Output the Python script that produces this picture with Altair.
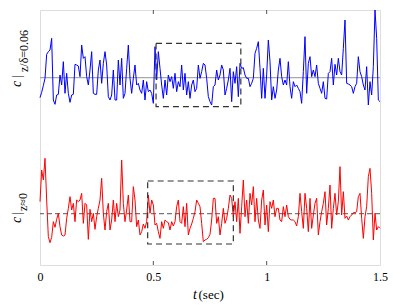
import altair as alt
import numpy as np
import pandas as pd

# time axis (sec), uniform sampling
t = np.linspace(0, 1.5, 205)

# fluctuation about mean, upper trace c|z/delta=0.06 (arbitrary units)
blue = [
    -0.60, -0.44, -0.24, -0.02, 0.70, 0.78, 0.83, 1.18, -0.67, -0.80,
    -0.52, -0.50, 0.08, -0.22, 0.48, -0.47, 0.13, -0.47, -0.74, -0.52,
    -0.50, 0.40, 0.38, 0.35, 0.03, 0.98, 0.58, 0.63, 0.03, -0.22,
    0.23, 0.78, -0.47, -0.50, -0.50, 0.23, 0.53, -0.17, 0.43, 0.78,
    0.38, -0.57, -0.67, -0.52, 0.23, -0.67, -0.67, 0.53, -0.22, 0.58,
    -0.62, -0.47, 0.28, 0.98, -0.02, -0.47, -0.02, 0.38, -0.22, -0.17,
    -0.37, -0.47, -0.07, -0.67, -0.12, -0.42, -0.37, -0.47, -0.77, 0.93,
    -0.07, 0.78, 0.28, -0.22, -0.62, -0.07, -0.52, 0.08, -0.12, 0.03,
    -0.32, 0.13, -0.42, -0.12, -0.27, 0.38, -0.37, 0.13, -0.52, -0.12,
    -0.62, -0.22, -0.07, -0.42, -0.32, 0.38, -0.02, 0.18, 0.43, 0.38,
    -0.02, -0.57, -0.72, -0.82, -0.27, -0.22, 0.23, -0.07, 0.08, 0.38,
    0.23, -0.52, -0.32, -0.07, 0.28, -0.72, 0.18, -0.17, 0.33, -0.57,
    0.43, 0.28, 0.30, 0.08, -0.02, -0.02, -0.27, -0.17, -0.02, 0.73,
    0.88, 1.08, 0.28, -0.62, 0.28, -0.62, 0.08, 1.13, 0.48, -0.67,
    -0.27, -0.62, -0.37, 0.23, 0.58, 0.03, -0.22, -0.07, -0.22, 0.48,
    -0.27, -0.62, -0.12, -0.27, -0.22, -0.32, -0.42, -0.77, 0.18, 1.23,
    -0.47, 0.43, 0.63, 0.03, 0.23, 0.03, 0.38, -0.17, -0.32, -0.47,
    -0.12, -0.62, -0.64, 0.13, 0.18, 0.58, -0.22, 0.40, 0.08, 0.58,
    0.18, 0.08, 0.88, 1.73, -0.17, -0.19, -0.22, -0.27, -0.47, -0.27,
    -0.17, 0.63, 0.18, 0.03, -0.22, -0.37, 0.33, -0.82, -0.12, -0.52,
    0.33, 2.03, 1.18, -0.67, -0.72,
]

# lower trace c|z~0 (arbitrary units)
red = [
    0.36, 1.31, 1.01, 1.66, 0.41, -0.69, -0.87, -0.71, -0.24, -0.41,
    -0.17, 0.01, -0.39, -0.64, -0.67, -0.64, -0.14, 0.16, 0.51, 0.11,
    0.31, -0.24, 0.41, 0.36, 0.41, 0.61, -0.29, 0.31, 0.26, -0.77,
    0.13, -0.24, 0.01, -0.47, -0.09, 0.16, 0.41, 1.06, 0.01, -0.49,
    0.06, 0.31, -0.49, -0.19, 0.41, -0.24, 0.31, -0.09, 0.11, 1.61,
    0.31, -0.24, 0.11, 0.56, -0.24, -0.24, 0.81, 0.41, -0.39, -0.19,
    -0.64, -0.54, -0.31, -0.44, -0.24, 0.56, 0.01, 0.41, 0.26, -0.34,
    -0.29, -0.54, -0.74, -0.24, -0.44, -0.19, -0.24, -0.27, -0.49, -0.24,
    -0.37, -0.24, 0.21, 0.41, -0.24, -0.29, 0.21, -0.39, 0.31, -0.64,
    -0.44, -0.31, -0.14, 0.06, 0.41, 0.31, 0.21, -0.29, -0.84, -0.79,
    -0.77, -0.72, -0.62, -0.19, 0.46, 0.46, -0.29, -0.09, -0.64, -0.29,
    0.16, -0.29, -0.14, 0.16, 0.56, 0.46, -0.09, 0.36, -0.24, 0.46,
    -0.59, 0.21, 1.01, -0.09, 0.41, -0.29, 0.61, 0.26, 0.81, -0.24,
    0.46, -0.19, -0.44, 0.41, 0.71, -0.34, 0.26, -0.54, 0.36, 0.16,
    0.41, -0.09, 0.16, 0.16, -0.19, -0.24, 0.21, -0.09, 0.26, -0.09,
    -0.17, -0.19, -0.19, -0.24, -0.37, -0.09, 0.61, 0.06, -0.44, 0.61,
    0.16, -0.54, 0.46, -0.44, -0.04, 0.31, 0.46, -0.64, -0.24, 0.06,
    0.31, 0.66, -0.34, 0.16, 0.86, -0.44, 0.16, 0.61, -0.04, 0.36,
    1.41, -0.04, 0.66, -0.14, -0.07, -0.19, -0.09, -0.04, 0.03, 0.03,
    0.06, 0.51, 0.61, -0.14, -0.74, -0.09, 0.21, 1.11, 1.36, 0.61,
    -0.79, 0.01, -0.49, -0.39, -0.44,
]

series_names = ["upper", "lower"]
series_colors = ["#0000ff", "#ff0000"]
offsets = [5.62, 1.54]          # vertical stacking of the two traces
y_range = [0, 7.65]
x_ticks = [0, 0.5, 1, 1.5]

# zoom boxes: t start, t end, low, high (relative to trace mean)
box_t0 = [0.512, 0.475]
box_t1 = [0.886, 0.853]
box_lo = [-0.87, -0.91]
box_hi = [1.03, 0.98]

W, H = 340, 255

lines_df = pd.concat([
    pd.DataFrame({"t": t, "y": np.array(blue) + offsets[0], "s": series_names[0]}),
    pd.DataFrame({"t": t, "y": np.array(red) + offsets[1], "s": series_names[1]}),
])
box_df = pd.DataFrame({
    "t0": box_t0, "t1": box_t1,
    "lo": np.array(box_lo) + np.array(offsets),
    "hi": np.array(box_hi) + np.array(offsets),
})
base_df = pd.DataFrame({"y": offsets, "s": series_names})
tick_df = pd.DataFrame({"t": [0.5, 1.0]})
one = pd.DataFrame({"a": [0]})

xs = alt.Scale(domain=[0, 1.5], nice=False, zero=False)
ys = alt.Scale(domain=y_range, nice=False, zero=False)

X = alt.X("t:Q", scale=xs,
          axis=alt.Axis(values=x_ticks, format="~g", ticks=False, domain=False, grid=False,
                        labelFont="Liberation Serif", labelFontSize=12, labelColor="#000",
                        labelPadding=6, labelFlush=False, title=None))

base_upper = alt.Chart(base_df[base_df.s == "upper"]).mark_rule(color="#a8a8a8", strokeWidth=1.3).encode(
    y=alt.Y("y:Q", scale=ys, axis=None))
base_lower = alt.Chart(base_df[base_df.s == "lower"]).mark_rule(color="#777777", strokeWidth=1.2,
                                                                strokeDash=[5, 3]).encode(
    y=alt.Y("y:Q", scale=ys, axis=None))

lines = alt.Chart(lines_df).mark_line(strokeWidth=1, interpolate="linear").encode(
    x=X,
    y=alt.Y("y:Q", scale=ys, axis=None),
    color=alt.Color("s:N", scale=alt.Scale(domain=series_names, range=series_colors), legend=None),
    detail="s:N",
)

boxes = alt.Chart(box_df).mark_rect(fillOpacity=0, stroke="#333333", strokeWidth=1.2,
                                    strokeDash=[6, 4]).encode(
    x=alt.X("t0:Q", scale=xs), x2="t1:Q",
    y=alt.Y("lo:Q", scale=ys, axis=None), y2="hi:Q",
)

ticks_bottom = alt.Chart(tick_df).mark_rule(color="#555555", strokeWidth=1).encode(
    x=alt.X("t:Q", scale=xs), y=alt.value(H), y2=alt.value(H - 4))
ticks_top = alt.Chart(tick_df).mark_rule(color="#555555", strokeWidth=1).encode(
    x=alt.X("t:Q", scale=xs), y=alt.value(0), y2=alt.value(4))

serif = "Liberation Serif"

def txt(s, x, y, size, style="normal", angle=0):
    return alt.Chart(one).mark_text(text=s, font=serif, fontSize=size, fontStyle=style,
                                    align="left", baseline="alphabetic", angle=angle,
                                    color="#000").encode(x=alt.value(x), y=alt.value(y))

labels = [
    txt("c", -19, 77, 14, "italic", 270),
    txt("|", -19, 68, 13, "normal", 270),
    txt("z/δ=0.06", -12.5, 62, 12, "normal", 270),
    txt("c", -19, 213, 14, "italic", 270),
    txt("|", -19, 205, 13, "normal", 270),
    txt("z≈0", -13, 201, 12, "normal", 270),
    txt("t", 153, 289, 14, "italic"),
    txt("(sec)", 158.5, 289, 13, "normal"),
]

chart = alt.layer(base_upper, base_lower, lines, boxes, ticks_bottom, ticks_top, *labels).properties(
    width=W, height=H,
    autosize=alt.AutoSizeParams(type="none"),
    padding={"left": 32, "top": 2, "right": 12, "bottom": 41},
).configure_view(stroke="#999999", strokeWidth=1.5).configure(background="white")

chart.save("out.html", embed_options={"renderer": "svg", "actions": False})
